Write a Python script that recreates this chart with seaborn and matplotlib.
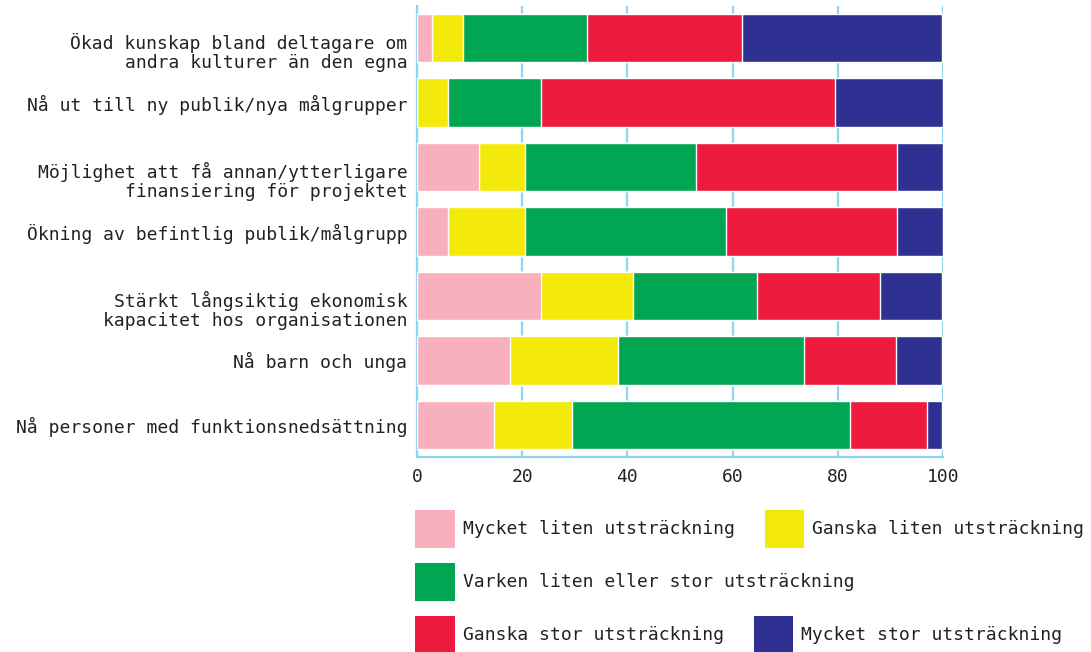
import matplotlib
matplotlib.use("Agg")
import matplotlib.pyplot as plt
import matplotlib.transforms as mtransforms
import seaborn as sns
import numpy as np
import pandas as pd
from matplotlib.patches import Patch

categories = [
    "Ökad kunskap bland deltagare om\nandra kulturer än den egna",
    "Nå ut till ny publik/nya målgrupper",
    "Möjlighet att få annan/ytterligare\nfinansiering för projektet",
    "Ökning av befintlig publik/målgrupp",
    "Stärkt långsiktig ekonomisk\nkapacitet hos organisationen",
    "Nå barn och unga",
    "Nå personer med funktionsnedsättning",
]
series_names = [
    "Mycket liten utsträckning",
    "Ganska liten utsträckning",
    "Varken liten eller stor utsträckning",
    "Ganska stor utsträckning",
    "Mycket stor utsträckning",
]
mycket_liten = [2.9, 0.0, 11.8, 5.9, 23.5, 17.6, 14.7]
ganska_liten = [5.9, 5.9, 8.8, 14.7, 17.6, 20.6, 14.7]
varken = [23.5, 17.6, 32.4, 38.2, 23.5, 35.3, 52.9]
ganska_stor = [29.4, 55.9, 38.2, 32.4, 23.5, 17.6, 14.7]
mycket_stor = [38.2, 20.6, 8.8, 8.8, 11.8, 8.8, 2.9]
xticks = [0, 20, 40, 60, 80, 100]

colors = ["#F7B0BC", "#F3EA0C", "#00A651", "#EE1B3F", "#2E3192"]

sns.set_theme(style="white")
plt.rcParams["font.family"] = ["DejaVu Sans Mono", "DejaVu Sans"]

series = [mycket_liten, ganska_liten, varken, ganska_stor, mycket_stor]
cum = np.cumsum(np.array(series), axis=0)

fig = plt.figure(figsize=(10.91, 6.52), dpi=100)
ax = fig.add_axes([0.3822, 0.299, 0.8643 - 0.3822, 0.9908 - 0.299])

grid_color = "#8FD4F2"
for xv in xticks:
    ax.axvline(xv, color=grid_color, lw=1.6, zorder=0)

for i in reversed(range(len(series))):
    df = pd.DataFrame({"cat": categories, "val": cum[i]})
    sns.barplot(data=df, y="cat", x="val", orient="h", color=colors[i],
                width=0.75, saturation=1, ax=ax, zorder=2 + (5 - i))

h = [Patch(facecolor=c, edgecolor="none") for c in colors]

ax.set_xlim(0, 100)
ax.set_ylim(6.5, -0.5)
ax.set_xticks(xticks)
ax.set_xlabel("")
ax.set_ylabel("")
for s in ["top", "right"]:
    ax.spines[s].set_visible(False)
for s in ["left", "bottom"]:
    ax.spines[s].set_color(grid_color)
    ax.spines[s].set_linewidth(1.6)
ax.tick_params(axis="both", length=0, labelsize=13, colors="#222222")
ax.tick_params(axis="y", pad=7)
ax.tick_params(axis="x", pad=8)
shift = mtransforms.ScaledTranslation(0, -12 / 100, fig.dpi_scale_trans)
for lab in ax.get_yticklabels():
    lab.set_linespacing(1.05)
    lab.set_horizontalalignment("right")
    if "\n" in lab.get_text():
        lab.set_transform(lab.get_transform() + shift)

common = dict(frameon=False, fontsize=13, handlelength=2.2, handleheight=2.86,
              handletextpad=0.45, columnspacing=1.65, borderpad=0, borderaxespad=0,
              labelcolor="#222222")
fig.legend([h[0], h[1]], [series_names[0], series_names[1]], ncol=2,
           loc="center left", bbox_to_anchor=(415 / 1091, 1 - 529 / 652), **common)
fig.legend([h[2]], [series_names[2]], ncol=1,
           loc="center left", bbox_to_anchor=(415 / 1091, 1 - 582 / 652), **common)
fig.legend([h[3], h[4]], [series_names[3], series_names[4]], ncol=2,
           loc="center left", bbox_to_anchor=(415 / 1091, 1 - 635 / 652), **common)

fig.savefig("out.png", dpi=100)
